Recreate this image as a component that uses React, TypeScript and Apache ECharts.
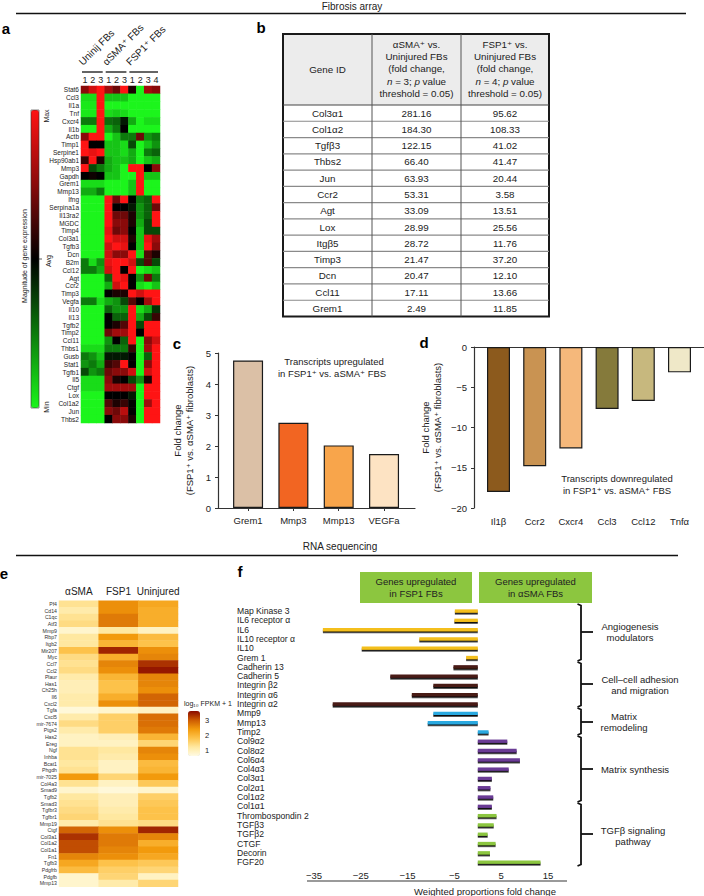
import React, { useEffect, useRef } from 'react';
import * as echarts from 'echarts';

const FONT = '"Liberation Sans", Arial, "DejaVu Sans", sans-serif';
const INK = '#222';

// ---------- Panel a: fibrosis array heatmap ----------
const aGenes = ['Stat6','Ccl3','Il1a','Tnf','Cxcr4','Il1b','Actb','Timp1','Serpine1','Hsp90ab1','Mmp3','Gapdh','Grem1','Mmp13','Ifng','Serpina1a','Il13ra2','MGDC','Timp4','Col3a1','Tgfb3','Dcn','B2m','Ccl12','Agt','Ccr2','Timp3','Vegfa','Il10','Il13','Tgfb2','Timp2','Ccl11','Thbs1','Gusb','Stat1','Tgfb1','Il5','Ctgf','Lox','Col1a2','Jun','Thbs2'];
const aColumns = ['1','2','3','1','2','3','1','2','3','4'];
const aGroups = ['Uninij FBs','αSMA⁺ FBs','FSP1⁺ FBs'];
const aGroupCols = [[0, 2], [3, 5], [6, 9]];
const aValues = [
  [0.5,0.8,1,0.6,0.4,1,0.1,-1,0.6,0.5],
  [-0.9,-0.9,1,-0.8,-0.8,-0.8,-1,-1,-1,-1],
  [-0.95,-0.95,1,-1,-1,-1,-1,-1,-1,-1],
  [-0.95,-0.95,1,-0.9,-0.85,-0.9,-1,-1,-1,-1],
  [-0.5,-0.5,1,-0.45,-0.4,-0.1,-0.7,-1,-0.9,-0.9],
  [-1,-1,1,-0.7,-0.5,0,-1,-1,-1,-1],
  [0.5,1,1,-1,-0.8,-0.5,-0.5,0.4,-0.6,-0.5],
  [1,0,0,-0.8,-0.8,-0.9,-0.3,-1,-0.8,-0.6],
  [1,0.9,1,-0.8,-0.8,-0.9,-0.7,-1,-0.5,-0.4],
  [0.2,1,0.1,-0.7,-0.8,-0.8,-0.7,-1,-0.8,-0.7],
  [1,-0.3,-0.5,-0.7,-0.8,-1,1,1,0,0.5],
  [0,0.05,0,-0.8,-0.8,-1,-1,1,-0.8,-0.8],
  [-0.9,-0.9,-0.9,-1,-1,-1,-0.8,1,-1,-1],
  [-0.7,-0.7,-0.5,-1,-1,-1,-0.8,1,-1,-1],
  [-1,-1,-1,1,0.4,1,0,-0.5,-0.4,1],
  [-1,-1,-1,1,0,0,-0.1,-0.6,-0.4,0.4],
  [-1,-1,-1,1,0.4,0.4,0.1,-0.6,-0.4,1],
  [-1,-1,-1,1,0.5,0.5,0.1,-0.7,-0.3,1],
  [-1,-1,-1,0.9,0.4,0.5,0,-0.8,-0.3,-0.3],
  [-1,-1,-1,1,0.8,0.8,0.1,-0.8,0.9,0.6],
  [-1,-1,-1,0.8,1,0.9,0,-0.8,1,0.5],
  [-1,-1,-1,0.8,0.5,0.5,1,-0.9,0.3,0.1],
  [-0.5,-0.9,-0.6,0.9,1,1,0.8,-0.3,0.3,-0.3],
  [-0.5,-0.5,-0.7,0.8,1,0,1,-1,-0.9,-0.8],
  [-1,-1,-1,-0.4,1,0.9,0,-0.6,0.4,-0.5],
  [-1,-1,-1,-0.7,0.8,1,0,-0.9,-1,-0.8],
  [-1,-1,-1,0,0.1,0.1,1,0.8,1,1],
  [-0.5,-0.5,-0.9,-0.7,-0.6,-0.3,0.3,0,0.6,1],
  [-1,-1,-1,-0.4,-0.6,-0.6,1,-0.9,-0.7,-0.2],
  [-1,-1,-1,0,-0.4,-0.4,1,-0.7,-0.3,0.2],
  [-1,-1,-1,0,0.1,0.3,1,-0.3,1,1],
  [-1,-1,-1,0.4,0.6,0.6,1,0,1,1],
  [-1,-1,-1,-0.6,0,-0.4,1,-1,0.5,0.8],
  [-0.9,-0.9,-0.9,-0.5,-0.5,-0.5,0.2,-1,0.6,1],
  [-0.5,-0.6,-0.8,-0.1,-0.1,-0.1,0,-1,-0.4,1],
  [-0.6,-0.5,-0.7,0.2,0.3,1,0,-1,0.5,1],
  [-0.3,-0.6,-0.5,0.4,0.5,0.5,0.8,-1,0.8,1],
  [-0.9,-0.9,-0.9,0.5,0.1,0,-0.3,-0.6,0.1,1],
  [-0.9,-0.9,-0.9,0.6,0.6,0.6,0.6,-1,1,1],
  [-1,-1,-1,0,0,0,-0.1,-1,1,1],
  [-1,-1,-1,0.3,0.1,0.2,0,-1,0.6,1],
  [-1,-1,-1,0.5,0.4,0.7,0,-1,1,1],
  [-1,-1,-1,0,0.5,0.5,0.1,-1,1,1],
];

// ---------- Panel b: table ----------
const tableGenes = ['Col3α1','Col1α2','Tgfβ3','Thbs2','Jun','Ccr2','Agt','Lox','Itgβ5','Timp3','Dcn','Ccl11','Grem1'];
const tableSma = ['281.16','184.30','122.15','66.40','63.93','53.31','33.09','28.99','28.72','21.47','20.47','17.11','2.49'];
const tableFsp = ['95.62','108.33','41.02','41.47','20.44','3.58','13.51','25.56','11.76','37.20','12.10','13.66','11.85'];
const tableHeadSma = ['αSMA⁺ vs.','Uninjured FBs','(fold change,','{i|n} = 3; {i|p} value','threshold = 0.05)'];
const tableHeadFsp = ['FSP1⁺ vs.','Uninjured FBs','(fold change,','{i|n} = 4; {i|p} value','threshold = 0.05)'];

// ---------- Panel c ----------
const cGenes = ['Grem1','Mmp3','Mmp13','VEGFa'];
const cValues = [4.76, 2.75, 2.02, 1.74];
const cColors = ['#dbc0a6','#f26522','#f8a54b','#fde3c3'];

// ---------- Panel d ----------
const dGenes = ['Il1β','Ccr2','Cxcr4','Ccl3','Ccl12','Tnfα'];
const dValues = [-18.0, -14.8, -12.6, -7.7, -6.7, -3.15];
const dColors = ['#8c5a1d','#c99352','#f5b87b','#857a3b','#c7b87e','#efe8c8'];

// ---------- Panel e: RNA-seq heatmap ----------
const eGenes = ['Pf4','Cd14','C1qc','Atf3','Mmp9','Rbp7','Itgb2','Mir207','Myc','Ccl7','Ccl2','Plaur','Has1','Ch25h','Il6','Cxcl2','Tgfa','Cxcl5','mir-7674','Ptgs2','Has2','Ereg','Ngf','Inhba','Bcat1','Phgdh','mir-7025','Col4a3','Smad9','Tgfb2','Smad3','Tgfbr3','Tgfbr1','Mmp19','Ctgf','Col3a1','Col1a2','Col1a1','Fn1','Tgfb3','Pdgfrb','Pdgfb','Mmp13'];
const eColumns = ['αSMA','FSP1','Uninjured'];
const eValues = [
  [1.3,2.5,2.2],[1.1,2.5,2.1],[1.3,2.7,2.1],[1.4,2.7,2.1],[0.8,1.2,0.9],
  [1.2,2.4,1.9],[1.2,2.0,1.8],[1.8,3.4,2.5],[1.4,2.1,2.6],[1.3,2.6,3.3],
  [1.4,2.5,3.5],[1.1,2.0,2.6],[1.0,1.8,2.6],[1.0,1.8,2.5],[1.1,2.1,2.9],
  [1.1,2.5,2.9],[0.7,0.8,0.9],[1.1,1.6,2.8],[1.4,1.6,2.8],[1.1,1.6,2.7],
  [0.9,1.0,2.0],[0.9,0.9,1.5],[1.3,1.2,2.6],[1.3,1.1,2.5],[1.2,0.9,1.9],
  [1.3,0.9,2.0],[2.4,1.5,2.4],[1.3,0.9,1.7],[0.8,0.7,0.8],[1.2,1.0,1.6],
  [1.3,1.0,1.7],[1.4,1.1,1.8],[1.5,1.2,1.8],[1.1,1.3,1.4],[2.9,2.5,3.4],
  [3.3,2.7,2.6],[3.1,2.7,2.1],[3.1,2.6,2.4],[2.6,2.5,2.2],[2.2,1.8,1.7],
  [1.9,1.6,1.5],[0.8,1.5,0.9],[0.8,1.1,1.5],
];
const eLegendTicks = [3, 2, 1];

// ---------- Panel f ----------
const fGenes = ['Map Kinase 3','IL6 receptor α','IL6','IL10 receptor α','IL10','Grem 1','Cadherin 13','Cadherin 5','Integrin β2','Integrin α6','Integrin α2','Mmp9','Mmp13','Timp2','Col9α2','Col8α2','Col6α4','Col4α3','Col3α1','Col2α1','Col1α2','Col1α1','Thrombospondin 2','TGFβ3','TGFβ2','CTGF','Decorin','FGF20'];
const fValues = [-4.9,-5.0,-33.1,-12.5,-24.8,-2.5,-5.2,-18.7,-9.5,-14.1,-31.0,-9.5,-10.7,2.3,6.3,8.3,9.0,6.6,3.0,2.7,3.3,3.0,4.0,3.4,2.1,3.8,2.6,13.4];
const fGroup = [0,0,0,0,0,0,1,1,1,1,1,2,2,2,3,3,3,3,3,3,3,3,4,4,4,4,4,4];
const fGroupNames = ['Angiogenesis\nmodulators','Cell–cell adhesion\nand migration','Matrix\nremodeling','Matrix synthesis','TGFβ signaling\npathway'];
const fColors = ['#f4bf1c','#4a1c18','#2aa9e0','#6a3a95','#8cc63f'];
const fHeaders = ['Genes upregulated\nin FSP1 FBs','Genes upregulated\nin αSMA FBs'];

// ---------- layout ----------
const gA = { left: 81, top: 86, width: 79, height: 337 };
const gE = { left: 59, top: 600.7, width: 119, height: 286 };
const gC = { left: 225.4, top: 353, width: 181.3, height: 155 };
const gCax = { left: 218, top: 353, width: 197, height: 155 };
const gD = { left: 480.4, top: 347, width: 217.2, height: 161 };
const gDax = { left: 474, top: 347, width: 230, height: 161 };
const gF = { left: 314, top: 606.35, width: 234, height: 260.4 };
const eBar = { left: 188, top: 711, width: 12, height: 45, min: 0.6, max: 3.6 };
const fBrackets = [[604, 661, 632], [662, 707, 684], [708, 735, 722], [736, 802, 769], [803, 866, 834]];
const fBracketText = [[630, 632], [640, 685], [624, 722], [635, 769], [633, 836]];

function txt(x: number, y: number, text: string, o: any = {}) {
  const align = o.align || 'center';
  const valign = o.valign || 'middle';
  return {
    type: 'text', x, y, rotation: o.rotation || 0, silent: true, z: 10,
    style: {
      text, fill: o.color || INK, fontSize: o.size || 9, fontFamily: FONT,
      fontWeight: o.weight || 'normal', fontStyle: o.fontStyle || 'normal',
      textAlign: align, textVerticalAlign: valign, align, verticalAlign: valign,
      lineHeight: o.lh, rich: o.rich,
    },
  };
}
function line(x1: number, y1: number, x2: number, y2: number, stroke = INK, lw = 1) {
  return { type: 'line', silent: true, z: 10, shape: { x1, y1, x2, y2 }, style: { stroke, lineWidth: lw } };
}
function rect(x: number, y: number, w: number, h: number, fill: string, stroke?: string, lw = 0) {
  return { type: 'rect', silent: true, z: 9, shape: { x, y, width: w, height: h }, style: { fill, stroke, lineWidth: lw } };
}

function buildGraphics() {
  const g: any[] = [];
  // section headers
  g.push(txt(352, 6, 'Fibrosis array', { size: 10 }));
  g.push(line(16, 13.5, 686, 13.5, '#111', 1.5));
  g.push(txt(340, 546, 'RNA sequencing', { size: 10 }));
  g.push(line(16, 555.5, 678, 555.5, '#111', 1.5));
  // panel letters
  [['a', 6, 28], ['b', 261, 27], ['c', 177, 343], ['d', 424, 342], ['e', 4, 573], ['f', 240, 571]].forEach(([t, x, y]) =>
    g.push(txt(x as number, y as number, t as string, { size: 15, weight: 'bold', color: '#000' })));

  // panel a group lines + rotated labels
  const cw = gA.width / aColumns.length;
  aGroupCols.forEach(([c0, c1], i) => {
    const x0 = gA.left + c0 * cw + 1;
    const x1 = gA.left + (c1 + 1) * cw - 2;
    g.push(line(x0, 72, x1, 72, '#111', 1.3));
    g.push(txt(x0 + 2, 67, aGroups[i], { size: 10, align: 'left', valign: 'bottom', rotation: Math.PI / 4 }));
  });
  // panel a colour bar labels
  g.push(rect(31, 110, 8, 298, 'none', '#333', 0.6));
  g.push(txt(46, 116, 'Max', { size: 7, rotation: Math.PI / 2 }));
  g.push(txt(48, 261, 'Avg', { size: 7, rotation: Math.PI / 2 }));
  g.push(line(39, 259, 42, 259, '#333', 0.8));
  g.push(txt(46, 407, 'Min', { size: 7, rotation: Math.PI / 2 }));
  g.push(txt(24, 256, 'Magnitude of gene expression', { size: 7, rotation: Math.PI / 2 }));

  // panel b table
  const tL = 283, tR = 549, tT = 34, tH = 105, tB = 316.5;
  const c1 = 372, c2 = 461;
  const rh = (tB - tH) / tableGenes.length;
  g.push(rect(tL, tT, tR - tL, tH - tT, '#ececec'));
  for (let i = 1; i < tableGenes.length; i++) g.push(line(tL, tH + i * rh, tR, tH + i * rh, '#8a8a8a', 1.2));
  g.push(line(tL, tH, tR, tH, '#444', 1));
  g.push(line(c1, tT, c1, tB, '#555', 1));
  g.push(line(c2, tT, c2, tB, '#555', 1));
  g.push(rect(tL, tT, tR - tL, tB - tT, 'none', '#1a1a1a', 2));
  const rich = { i: { fontStyle: 'italic', fontSize: 9.8, fontFamily: FONT, fill: INK } };
  g.push(txt((tL + c1) / 2, (tT + tH) / 2, 'Gene ID', { size: 9.8 }));
  tableHeadSma.forEach((s, k) => g.push(txt((c1 + c2) / 2, 44 + k * 12.4, s, { size: 9.8, rich })));
  tableHeadFsp.forEach((s, k) => g.push(txt((c2 + tR) / 2, 44 + k * 12.4, s, { size: 9.8, rich })));
  tableGenes.forEach((s, i) => {
    const y = tH + (i + 0.5) * rh;
    g.push(txt((tL + c1) / 2, y, s, { size: 9.8 }));
    g.push(txt((c1 + c2) / 2, y, tableSma[i], { size: 9.8 }));
    g.push(txt((c2 + tR) / 2, y, tableFsp[i], { size: 9.8 }));
  });

  // panel c / d annotations
  g.push(txt(334, 361, 'Transcripts upregulated', { size: 9.5 }));
  g.push(txt(332, 373, 'in FSP1⁺ vs. aSMA⁺ FBS', { size: 9.5 }));
  g.push(txt(617, 478, 'Transcripts downregulated', { size: 9.5 }));
  g.push(txt(617, 490, 'in FSP1⁺ vs. aSMA⁺ FBS', { size: 9.5 }));

  // panel e legend
  g.push(txt(184, 703, 'log₁₀ FPKM + 1', { size: 7, align: 'left' }));
  eLegendTicks.forEach((v) => {
    const y = eBar.top + eBar.height - ((v - eBar.min) / (eBar.max - eBar.min)) * eBar.height;
    g.push(txt(eBar.left + eBar.width + 5, y, String(v), { size: 7.5, align: 'left' }));
  });

  // panel f headers
  g.push(rect(360, 572, 112, 31, '#8cc63f'));
  g.push(rect(479, 572, 113, 31, '#8cc63f'));
  g.push(txt(416, 587.5, fHeaders[0], { size: 9.5, lh: 11.6 }));
  g.push(txt(535.5, 587.5, fHeaders[1], { size: 9.5, lh: 11.6 }));
  // brackets
  fBrackets.forEach(([y0, y1, ym], i) => {
    g.push({ type: 'polyline', silent: true, z: 10, shape: { points: [[577.5, y0], [581, y0 + 1.5], [581, y1 - 1.5], [577.5, y1]] }, style: { stroke: '#111', lineWidth: 1.8, fill: 'none' } });
    g.push(line(581, ym, 593, ym, '#111', 1.8));
    const [tx, ty] = fBracketText[i];
    g.push(txt(tx, ty, fGroupNames[i], { size: 9.5, lh: 11.8 }));
  });
  // f axis line + name
  g.push(line(307, 881, 567, 881, '#9a9a9a', 2));
  g.push(txt(485, 891, 'Weighted proportions fold change', { size: 9.5 }));
  return g;
}

const minus = (v: number) => (v < 0 ? '\u2212' + Math.abs(v) : String(v));
const baseLabel = { color: INK, fontFamily: FONT };

function buildOption(): any {
  const aData: any[] = [];
  aValues.forEach((row, r) => row.forEach((v, c) => aData.push([c, r, v])));
  const eData: any[] = [];
  eValues.forEach((row, r) => row.forEach((v, c) => eData.push([c, r, v])));
  const hidden = { show: false };

  return {
    animation: false,
    backgroundColor: '#fff',
    textStyle: { fontFamily: FONT },
    grid: [gA, gE, gC, gCax, gD, gDax, gF].map((g) => ({ ...g, containLabel: false })),
    xAxis: [
      { gridIndex: 0, type: 'category', data: aColumns, position: 'top', axisLine: hidden, axisTick: hidden, splitLine: hidden,
        axisLabel: { ...baseLabel, fontSize: 9, margin: 2, interval: 0 } },
      { gridIndex: 1, type: 'category', data: eColumns, position: 'top', axisLine: hidden, axisTick: hidden, splitLine: hidden,
        axisLabel: { ...baseLabel, fontSize: 10, margin: 4, interval: 0 } },
      { gridIndex: 2, type: 'category', data: cGenes, axisLine: hidden, splitLine: hidden,
        axisTick: { show: true, alignWithLabel: true, length: 3, lineStyle: { color: '#333' } },
        axisLabel: { ...baseLabel, fontSize: 9.5, margin: 7, interval: 0 } },
      { gridIndex: 3, type: 'category', data: cGenes, axisLine: { show: true, onZero: false, lineStyle: { color: '#333', width: 1.2 } },
        axisTick: hidden, axisLabel: hidden, splitLine: hidden },
      { gridIndex: 4, type: 'category', data: dGenes, position: 'bottom', axisLine: { show: false, onZero: false }, axisTick: hidden, splitLine: hidden,
        axisLabel: { ...baseLabel, fontSize: 9.5, margin: 8, interval: 0 } },
      { gridIndex: 5, type: 'category', data: dGenes, position: 'top', axisLine: { show: true, onZero: false, lineStyle: { color: '#333', width: 1.2 } },
        axisTick: hidden, axisLabel: hidden, splitLine: hidden },
      { gridIndex: 6, type: 'value', min: -35, max: 15, interval: 5, axisLine: hidden, axisTick: hidden, splitLine: hidden,
        axisLabel: { ...baseLabel, fontSize: 9.5, margin: 4, formatter: (v: number) => ((v + 35) % 10 === 0 ? minus(v) : '') } },
    ],
    yAxis: [
      { gridIndex: 0, type: 'category', data: aGenes, inverse: true, axisLine: hidden, axisTick: hidden, splitLine: hidden,
        axisLabel: { ...baseLabel, fontSize: 6.5, margin: 2, interval: 0 } },
      { gridIndex: 1, type: 'category', data: eGenes, inverse: true, axisLine: hidden, axisTick: hidden, splitLine: hidden,
        axisLabel: { ...baseLabel, fontSize: 5.2, margin: 2, color: '#333', interval: 0 } },
      { gridIndex: 2, type: 'value', min: 0, max: 5, show: false },
      { gridIndex: 3, type: 'value', min: 0, max: 5, interval: 1, splitLine: hidden,
        axisLine: { show: true, lineStyle: { color: '#333', width: 1.2 } },
        axisTick: { show: true, length: 3, lineStyle: { color: '#333' } },
        axisLabel: { ...baseLabel, fontSize: 9.5, margin: 7 },
        name: 'Fold change\n(FSP1⁺ vs. αSMA⁺ fibroblasts)', nameLocation: 'middle', nameGap: 23,
        nameTextStyle: { ...baseLabel, fontSize: 9.5, lineHeight: 11.5 } },
      { gridIndex: 4, type: 'value', min: -20, max: 0, show: false },
      { gridIndex: 5, type: 'value', min: -20, max: 0, interval: 5, splitLine: hidden,
        axisLine: { show: true, lineStyle: { color: '#333', width: 1.2 } },
        axisTick: { show: true, length: 3, lineStyle: { color: '#333' } },
        axisLabel: { ...baseLabel, fontSize: 9.5, margin: 7, formatter: minus },
        name: 'Fold change\n(FSP1⁺ vs. αSMA⁺ fibroblasts)', nameLocation: 'middle', nameGap: 31,
        nameTextStyle: { ...baseLabel, fontSize: 9.5, lineHeight: 11.5 } },
      { gridIndex: 6, type: 'category', data: fGenes, inverse: true, axisLine: hidden, axisTick: hidden, splitLine: hidden,
        axisLabel: { ...baseLabel, fontSize: 8.6, margin: gF.left - 237, align: 'left', interval: 0 } },
    ],
    visualMap: [
      { type: 'continuous', seriesIndex: 0, min: -1, max: 1, calculable: false, show: true, orient: 'vertical',
        left: 31, top: 110, itemWidth: 8, itemHeight: 298, padding: 0,
        inRange: { color: ['#1cf51c', '#0c7a0c', '#000000', '#8a0a0a', '#ff1414'] } },
      { type: 'continuous', seriesIndex: 1, min: eBar.min, max: eBar.max, calculable: false, show: true, orient: 'vertical',
        left: eBar.left, top: eBar.top, itemWidth: eBar.width, itemHeight: eBar.height, padding: 0,
        inRange: { color: ['#fffbe4', '#ffe8a0', '#fdc24a', '#f29a0c', '#cc5a02', '#8a0a00'] } },
    ],
    series: [
      { type: 'heatmap', xAxisIndex: 0, yAxisIndex: 0, data: aData, itemStyle: { borderWidth: 0 }, emphasis: { disabled: true } },
      { type: 'heatmap', xAxisIndex: 1, yAxisIndex: 1, data: eData, itemStyle: { borderWidth: 0 }, emphasis: { disabled: true } },
      { type: 'bar', xAxisIndex: 2, yAxisIndex: 2, barWidth: 30,
        data: cValues.map((v, i) => ({ value: v, itemStyle: { color: cColors[i], borderColor: '#1a1a1a', borderWidth: 1.2 } })) },
      { type: 'bar', xAxisIndex: 4, yAxisIndex: 4, barWidth: 23,
        data: dValues.map((v, i) => ({ value: v, itemStyle: { color: dColors[i], borderColor: '#1a1a1a', borderWidth: 1.2 } })) },
      { type: 'bar', xAxisIndex: 6, yAxisIndex: 6, barWidth: 3.3,
        data: fValues.map((v, i) => ({ value: v, itemStyle: { color: fColors[fGroup[i]], shadowColor: '#111', shadowOffsetY: 1.7, shadowBlur: 0 } })) },
    ],
    graphic: { elements: buildGraphics() },
  };
}

export default function App() {
  const ref = useRef<HTMLDivElement>(null);
  useEffect(() => {
    if (!ref.current) return;
    const chart = echarts.init(ref.current, null, { renderer: 'svg' });
    chart.setOption(buildOption());
    return () => chart.dispose();
  }, []);
  return <div ref={ref} style={{ position: 'absolute', left: 0, top: 0, width: 704, height: 896, background: '#fff' }} />;
}
